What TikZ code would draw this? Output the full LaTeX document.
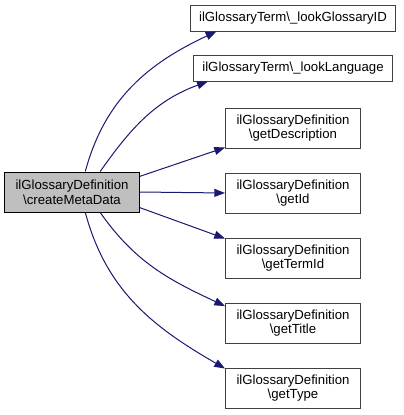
\documentclass[tikz,border=0pt]{standalone}
\usepackage{fontspec}
\setmainfont{Liberation Sans}
\usetikzlibrary{arrows.meta,positioning}
\definecolor{EdgeBlue}{HTML}{191970}
\definecolor{BoxRule}{HTML}{404040}
\definecolor{BoxGrey}{HTML}{BFBFBF}
\newcommand{\bsl}{\textbackslash}

\begin{document}
\begin{tikzpicture}[x=0.75pt,y=-0.75pt,>={Triangle[length=8pt,width=6pt]},
  font=\fontsize{9.9}{11}\selectfont,on grid,
  fnbox/.style={draw=BoxRule,fill=white,line width=0.75pt,align=center,inner xsep=6.5pt},
  defbox/.style={fnbox,minimum width=101.25pt,minimum height=30pt},
  termbox/.style={fnbox,minimum height=19.5pt},
  edge/.style={->,EdgeBlue,line width=0.75pt}]
  \useasboundingbox (0,0) rectangle (404,415);
  % caller
  \node[defbox,fill=BoxGrey,draw=black] (create) at (72,192)
        {ilGlossaryDefinition\\\bsl createMetaData};
  % callees
  \node[termbox] (glossid) at (293,18) {ilGlossaryTerm\bsl\_lookGlossaryID};
  \node[termbox,below=37.5pt of glossid] (lang) {ilGlossaryTerm\bsl\_lookLanguage};
  \node[defbox,below=45pt of lang] (desc) {ilGlossaryDefinition\\\bsl getDescription};
  \node[defbox,below=48.75pt of desc] (getid) {ilGlossaryDefinition\\\bsl getId};
  \node[defbox,below=48.75pt of getid] (termid) {ilGlossaryDefinition\\\bsl getTermId};
  \node[defbox,below=48.75pt of termid] (title) {ilGlossaryDefinition\\\bsl getTitle};
  \node[defbox,below=48.75pt of title] (type) {ilGlossaryDefinition\\\bsl getType};
  % calls
  \draw[edge] (create.57) to[out=75,in=205] (glossid.190);
  \draw[edge] (create.36) to[out=55,in=200] (lang.189);
  \draw[edge] (create.13) -- (desc.196);
  \draw[edge] (create.east) -- (getid.west);
  \draw[edge] (create.-13) -- (termid.164);
  \draw[edge] (create.-36) to[out=-55,in=155] (title.166);
  \draw[edge] (create.-57) to[out=-75,in=150] (type.164);
\end{tikzpicture}
\end{document}
